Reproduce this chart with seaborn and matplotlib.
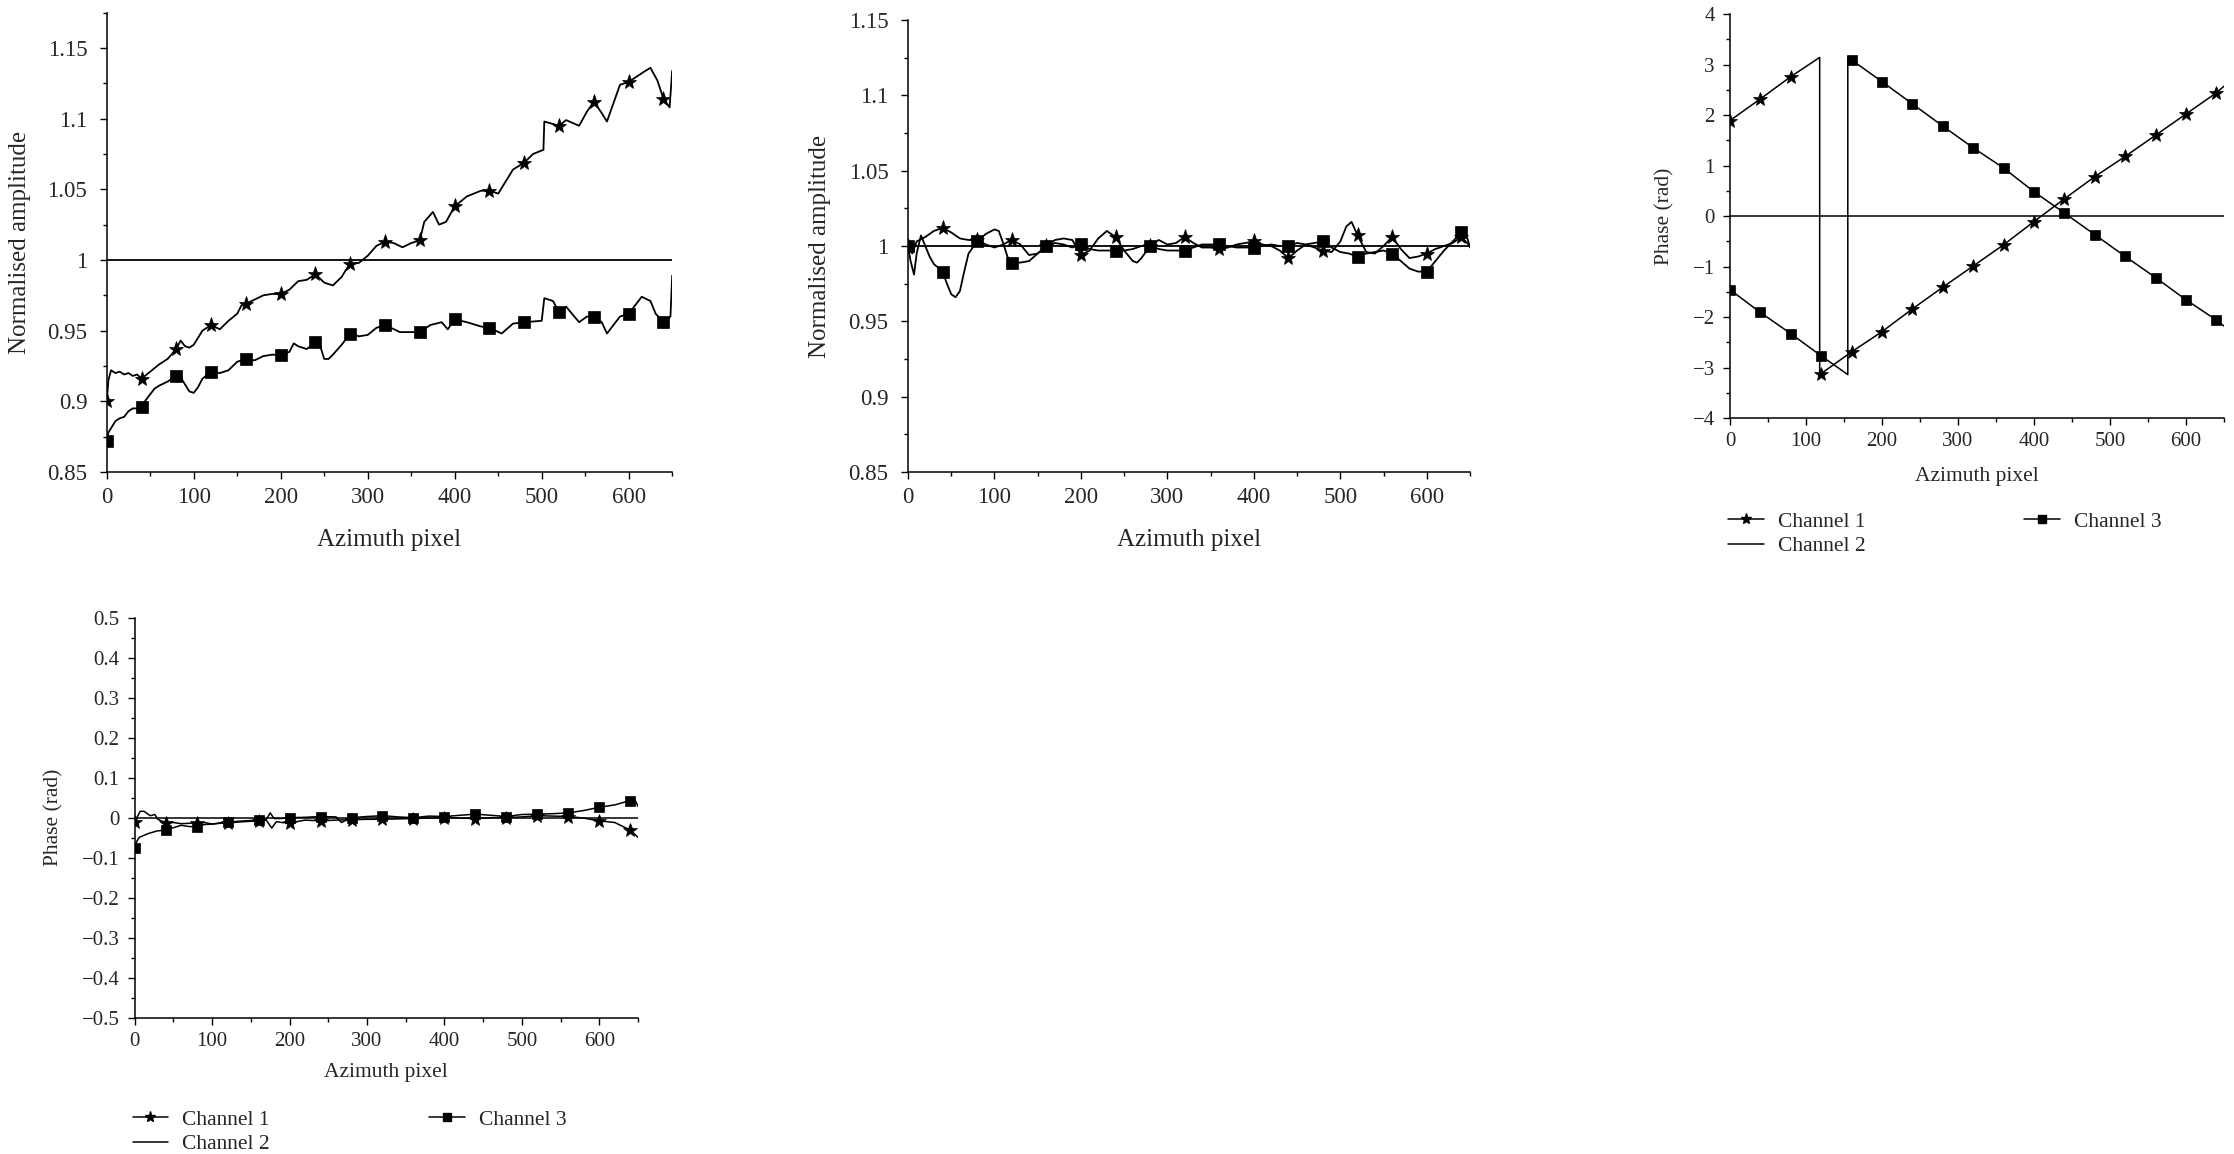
import numpy as np
import seaborn as sns
import matplotlib
matplotlib.use("Agg")
import matplotlib.pyplot as plt
from matplotlib.ticker import MultipleLocator, FuncFormatter
from matplotlib.lines import Line2D

sns.set_style("ticks")
plt.rcParams["font.family"] = ["Liberation Serif", "DejaVu Serif"]

# ---- data ----
markers_at = [0, 40, 80, 120, 160, 200, 240, 280, 320, 360, 400, 440, 480, 520, 560, 600, 640]

# panel (a): amplitude before correction
amp_a_ch1_x = [0, 2, 5, 10, 15, 20, 25, 30, 35, 40, 50, 60, 70, 80, 85, 90, 95, 100, 110, 120,
               130, 140, 150, 155, 160, 170, 180, 190, 200, 210, 220, 230, 240, 250, 260, 270,
               275, 280, 290, 300, 310, 320, 330, 340, 350, 360, 365, 375, 382, 390, 400, 414,
               430, 440, 450, 467, 480, 490, 502, 503, 520, 528, 543, 552, 560, 569, 575, 590,
               600, 617, 625, 633, 640, 647, 650]
amp_a_ch1_y = [0.900, 0.915, 0.922, 0.920, 0.921, 0.919, 0.920, 0.918, 0.919, 0.916, 0.921, 0.926,
               0.930, 0.937, 0.943, 0.939, 0.938, 0.940, 0.950, 0.954, 0.951, 0.957, 0.962, 0.968,
               0.969, 0.972, 0.975, 0.976, 0.976, 0.979, 0.985, 0.986, 0.990, 0.984, 0.982, 0.988,
               0.993, 0.997, 0.998, 1.003, 1.010, 1.013, 1.012, 1.009, 1.012, 1.014, 1.027, 1.034,
               1.025, 1.027, 1.038, 1.045, 1.049, 1.049, 1.047, 1.064, 1.069, 1.075, 1.078, 1.098,
               1.095, 1.099, 1.095, 1.105, 1.112, 1.104, 1.098, 1.124, 1.126, 1.133, 1.136, 1.127,
               1.114, 1.108, 1.134]
amp_a_ch3_x = [0, 2, 5, 10, 15, 20, 25, 30, 35, 40, 45, 50, 55, 60, 70, 80, 85, 90, 95, 100, 105,
               110, 120, 130, 140, 150, 160, 170, 180, 190, 200, 210, 215, 220, 230, 240, 245, 250,
               255, 260, 270, 280, 290, 300, 310, 320, 337, 353, 360, 372, 385, 392, 400, 414, 430,
               440, 454, 467, 480, 500, 503, 513, 520, 528, 543, 552, 560, 569, 575, 590, 600, 615,
               625, 631, 640, 648, 650]
amp_a_ch3_y = [0.872, 0.878, 0.881, 0.886, 0.888, 0.889, 0.893, 0.895, 0.895, 0.896, 0.901, 0.905,
               0.909, 0.911, 0.914, 0.918, 0.917, 0.912, 0.907, 0.906, 0.910, 0.916, 0.921, 0.920,
               0.922, 0.928, 0.930, 0.929, 0.932, 0.933, 0.933, 0.935, 0.941, 0.939, 0.937, 0.942,
               0.940, 0.930, 0.930, 0.933, 0.940, 0.948, 0.946, 0.947, 0.952, 0.954, 0.949, 0.949,
               0.949, 0.954, 0.956, 0.951, 0.958, 0.956, 0.953, 0.952, 0.948, 0.955, 0.956, 0.957,
               0.973, 0.971, 0.963, 0.967, 0.956, 0.960, 0.960, 0.956, 0.948, 0.960, 0.962, 0.974,
               0.971, 0.962, 0.956, 0.960, 0.989]
amp_ch2_x = [0, 650]
amp_ch2_y = [1.0, 1.0]

# panel (b): amplitude after correction
amp_b_ch1_x = [0, 5, 10, 20, 30, 40, 50, 60, 70, 80, 90, 100, 110, 120, 130, 140, 150, 160, 170,
               180, 190, 200, 210, 220, 230, 240, 250, 260, 265, 270, 280, 290, 300, 310, 320, 330,
               340, 350, 360, 370, 380, 390, 400, 410, 420, 430, 440, 450, 460, 470, 480, 490, 500,
               507, 513, 520, 530, 540, 550, 560, 570, 580, 590, 600, 610, 620, 630, 640, 650]
amp_b_ch1_y = [1.000, 0.995, 1.003, 1.006, 1.010, 1.012, 1.009, 1.005, 1.004, 1.004, 1.001, 0.999,
               1.001, 1.004, 1.001, 0.994, 0.995, 1.000, 1.004, 1.005, 1.004, 0.994, 0.997, 1.005,
               1.010, 1.006, 0.997, 0.990, 0.989, 0.992, 1.000, 1.004, 1.001, 1.002, 1.006, 1.002,
               0.999, 0.999, 0.998, 0.999, 1.001, 1.002, 1.003, 1.001, 1.000, 0.997, 0.992, 0.997,
               1.001, 0.999, 0.997, 0.996, 1.003, 1.013, 1.016, 1.007, 0.996, 0.995, 1.000, 1.006,
               0.998, 0.992, 0.993, 0.995, 0.998, 1.000, 1.002, 1.006, 1.000]
amp_b_ch3_x = [0, 3, 7, 10, 15, 20, 25, 30, 40, 45, 50, 55, 60, 65, 70, 80, 90, 100, 105, 110, 115,
               120, 130, 140, 150, 160, 170, 180, 190, 200, 210, 220, 230, 240, 250, 260, 270, 280,
               290, 300, 310, 320, 330, 340, 350, 360, 370, 380, 390, 400, 410, 420, 430, 440, 450,
               460, 470, 480, 490, 500, 510, 520, 530, 540, 550, 560, 570, 580, 590, 600, 610, 620,
               630, 640, 645, 650]
amp_b_ch3_y = [1.000, 0.990, 0.981, 0.995, 1.007, 1.000, 0.993, 0.988, 0.983, 0.975, 0.968, 0.966,
               0.970, 0.983, 0.995, 1.003, 1.008, 1.011, 1.010, 1.002, 0.993, 0.989, 0.989, 0.990,
               0.995, 1.000, 1.002, 1.001, 0.999, 1.001, 0.998, 0.997, 0.997, 0.997, 0.997, 0.998,
               1.000, 1.000, 0.998, 0.997, 0.997, 0.997, 0.999, 1.001, 1.001, 1.001, 1.000, 0.999,
               0.999, 0.999, 1.000, 1.001, 1.000, 1.000, 1.002, 1.001, 1.002, 1.003, 0.999, 0.996,
               0.995, 0.993, 0.995, 0.996, 0.997, 0.995, 0.990, 0.985, 0.983, 0.983, 0.990, 0.997,
               1.003, 1.009, 1.009, 0.999]

# panel (c): phase before correction (wrapped)
ph_c_ch1_x = [0, 40, 80, 118, 118, 120, 160, 200, 240, 280, 320, 360, 400, 440, 480, 520, 560,
              600, 640, 650]
ph_c_ch1_y = [1.89, 2.32, 2.76, 3.14, -3.14, -3.12, -2.69, -2.29, -1.84, -1.41, -0.99, -0.57,
              -0.11, 0.34, 0.78, 1.18, 1.60, 2.02, 2.44, 2.57]
ph_c_ch3_x = [0, 40, 80, 120, 155, 155, 160, 200, 240, 280, 320, 360, 400, 440, 480, 520, 560,
              600, 640, 650]
ph_c_ch3_y = [-1.46, -1.91, -2.33, -2.77, -3.14, 3.14, 3.09, 2.66, 2.22, 1.78, 1.35, 0.95, 0.48,
              0.06, -0.37, -0.80, -1.22, -1.66, -2.06, -2.18]
ph_ch2_x = [0, 650]
ph_ch2_y = [0.0, 0.0]

# panel (d): phase after correction
ph_d_ch1_x = [0, 7, 12, 20, 26, 30, 40, 50, 60, 70, 80, 90, 100, 110, 120, 140, 160, 170, 177,
              183, 190, 200, 220, 240, 260, 280, 300, 320, 340, 360, 380, 400, 420, 440, 460, 480,
              500, 520, 540, 560, 580, 600, 620, 640, 650]
ph_d_ch1_y = [-0.011, 0.016, 0.016, 0.005, 0.008, -0.004, -0.013, -0.012, -0.015, -0.014, -0.013,
              -0.012, -0.016, -0.014, -0.013, -0.010, -0.008, -0.006, -0.026, -0.010, -0.012,
              -0.013, -0.006, -0.008, -0.006, -0.005, -0.004, -0.004, -0.003, -0.002, -0.001,
              0.000, -0.001, -0.002, 0.000, 0.000, 0.002, 0.005, 0.004, 0.003, -0.001, -0.008,
              -0.012, -0.031, -0.049]
ph_d_ch3_x = [0, 3, 6, 17, 29, 40, 50, 60, 70, 80, 90, 100, 110, 120, 140, 160, 170, 175, 180,
              190, 200, 220, 240, 260, 267, 280, 300, 320, 340, 360, 380, 400, 420, 440, 460, 480,
              500, 520, 540, 560, 580, 590, 600, 620, 640, 646, 650]
ph_d_ch3_y = [-0.076, -0.058, -0.049, -0.040, -0.033, -0.031, -0.025, -0.019, -0.022, -0.023,
              -0.017, -0.016, -0.013, -0.011, -0.008, -0.006, -0.004, 0.012, -0.002, -0.002,
              0.000, 0.001, 0.003, 0.002, -0.012, 0.000, 0.003, 0.005, 0.002, 0.000, 0.004,
              0.003, 0.006, 0.009, 0.006, 0.003, 0.008, 0.009, 0.010, 0.012, 0.018, 0.022, 0.026,
              0.032, 0.043, 0.045, 0.028]

legend_labels = ["Channel 1", "Channel 2", "Channel 3"]


def fmt(v, pos):
    return "{:g}".format(round(v, 3)).replace("-", "\u2212")


def mark_idx(xs):
    # indices of the vertices that carry a marker
    return [i for i, x in enumerate(xs) if x in markers_at and (i == 0 or xs[i - 1] != x)]


def draw(ax, ch1, ch2, ch3, lw, star_ms, sq_ms):
    sns.lineplot(x=ch2[0], y=ch2[1], ax=ax, color="black", lw=lw, estimator=None, sort=False)
    sns.lineplot(x=ch1[0], y=ch1[1], ax=ax, color="black", lw=lw, estimator=None, sort=False,
                 marker="*", markersize=star_ms, markevery=mark_idx(ch1[0]),
                 markeredgewidth=0.5, markeredgecolor="black", markerfacecolor="black")
    sns.lineplot(x=ch3[0], y=ch3[1], ax=ax, color="black", lw=lw, estimator=None, sort=False,
                 marker="s", markersize=sq_ms, markevery=mark_idx(ch3[0]),
                 markeredgewidth=0.5, markeredgecolor="black", markerfacecolor="black")


def style(ax, ylim, ymaj, ymin, tick_fs, label_fs, ylabel, xlab_y, ylab_x, ypad, xpad):
    ax.set_xlim(0, 650)
    ax.set_ylim(*ylim)
    ax.xaxis.set_major_locator(MultipleLocator(100))
    ax.xaxis.set_minor_locator(MultipleLocator(50))
    ax.yaxis.set_major_locator(MultipleLocator(ymaj))
    ax.yaxis.set_minor_locator(MultipleLocator(ymin))
    ax.xaxis.set_major_formatter(FuncFormatter(fmt))
    ax.yaxis.set_major_formatter(FuncFormatter(fmt))
    ax.tick_params(which="major", direction="out", length=5, width=1.0, labelsize=tick_fs, color="black")
    ax.tick_params(which="minor", direction="out", length=3, width=1.0, color="black")
    ax.tick_params(axis="y", pad=ypad)
    ax.tick_params(axis="x", pad=xpad)
    sns.despine(ax=ax)
    for s in ["left", "bottom"]:
        ax.spines[s].set_linewidth(1.1)
        ax.spines[s].set_color("black")
    ax.set_xlabel("Azimuth pixel", fontsize=label_fs, va="center")
    ax.set_ylabel(ylabel, fontsize=label_fs, va="center")
    ax.xaxis.set_label_coords(0.5, xlab_y)
    ax.yaxis.set_label_coords(ylab_x, 0.5)


def add_legend(ax, fs, y_anchor):
    handles = [
        Line2D([], [], color="black", lw=1.1, marker="*", markersize=8),
        Line2D([], [], color="black", lw=1.1),
        Line2D([], [], color="black", lw=1.1, marker="s", markersize=5.5),
    ]
    ax.legend(handles, legend_labels, ncol=2, loc="upper left", bbox_to_anchor=(-0.004, y_anchor),
              frameon=False, fontsize=fs, handlelength=1.65, handletextpad=0.65,
              columnspacing=7.4, labelspacing=0.2, borderpad=0, borderaxespad=0)


W, H = 2234, 1154
fig = plt.figure(figsize=(W / 100, H / 100), dpi=100)

ax1 = fig.add_axes([106.7 / W, 1 - 472 / H, 565.5 / W, 459.3 / H])
ax2 = fig.add_axes([908 / W, 1 - 472 / H, 562 / W, 452 / H])
ax3 = fig.add_axes([1730 / W, 1 - 418 / H, 494 / W, 404 / H])
ax4 = fig.add_axes([134.7 / W, 1 - 1017.7 / H, 503.3 / W, 400 / H])

draw(ax1, (amp_a_ch1_x, amp_a_ch1_y), (amp_ch2_x, amp_ch2_y), (amp_a_ch3_x, amp_a_ch3_y), 1.3, 11, 8)
draw(ax2, (amp_b_ch1_x, amp_b_ch1_y), (amp_ch2_x, amp_ch2_y), (amp_b_ch3_x, amp_b_ch3_y), 1.3, 11, 8)
draw(ax3, (ph_c_ch1_x, ph_c_ch1_y), (ph_ch2_x, ph_ch2_y), (ph_c_ch3_x, ph_c_ch3_y), 1.1, 10, 7)
draw(ax4, (ph_d_ch1_x, ph_d_ch1_y), (ph_ch2_x, ph_ch2_y), (ph_d_ch3_x, ph_d_ch3_y), 1.1, 10, 7)

style(ax1, (0.85, 1.175), 0.05, 0.025, 16.5, 18, "Normalised amplitude", -0.148, -0.153, 9, 6)
style(ax2, (0.85, 1.15), 0.05, 0.025, 16.5, 18, "Normalised amplitude", -0.150, -0.157, 9, 6)
style(ax3, (-4, 4), 1, 0.5, 15, 15.5, "Phase (rad)", -0.146, -0.132, 6, 5)
style(ax4, (-0.5, 0.5), 0.1, 0.05, 15, 15.5, "Phase (rad)", -0.138, -0.161, 6, 5)

add_legend(ax3, 15.5, -0.232)
add_legend(ax4, 15.5, -0.230)

fig.savefig("out.png", dpi=100, facecolor="white")
